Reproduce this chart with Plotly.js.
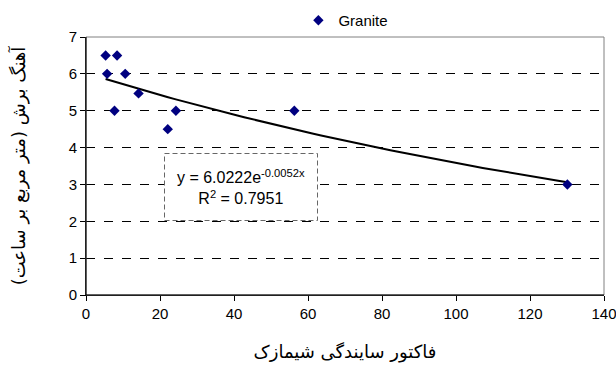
<!DOCTYPE html>
<html><head><meta charset="utf-8">
<script src="https://cdn.plot.ly/plotly-3.0.1.min.js"></script>
<style>html,body{margin:0;padding:0;background:#fff}</style>
</head><body>
<div id="chart" style="width:616px;height:368px"></div>
<script>
// Data
const seriesName = "Granite";
const abrasivity = [5.3, 8.4, 5.7, 10.6, 7.7, 14.2, 22.1, 24.3, 56.3, 130.1];
const cutRate    = [6.5, 6.5, 6.0, 6.0, 5.0, 5.47, 4.5, 5.0, 5.0, 3.0];
const trendA = 6.0222, trendB = -0.0052, trendR2 = 0.7951;
const xTicks = [0, 20, 40, 60, 80, 100, 120, 140];
const yTicks = [0, 1, 2, 3, 4, 5, 6, 7];
const xTitle = "فاکتور سایندگی شیمازک";
const yTitle = "آهنگ برش (متر مربع بر ساعت)";

// exponential trendline from displayed coefficients
const xmin = Math.min(...abrasivity), xmax = Math.max(...abrasivity);
const tx = [], ty = [];
for (let i = 0; i <= 60; i++) { const x = xmin + (xmax - xmin) * i / 60; tx.push(x); ty.push(trendA * Math.exp(trendB * x)); }

const traces = [
  {x: tx, y: ty, mode: 'lines', line: {color: '#000000', width: 2}, showlegend: false, hoverinfo: 'skip'},
  {x: abrasivity, y: cutRate, mode: 'markers', name: seriesName,
   marker: {symbol: 'diamond', size: 8, color: '#000080'}}
];

const layout = {
  width: 616, height: 368,
  margin: {l: 86, r: 12, t: 37, b: 73, autoexpand: false},
  paper_bgcolor: '#fff', plot_bgcolor: '#fff',
  font: {family: 'Liberation Sans, Arial, sans-serif', size: 15, color: '#000'},
  showlegend: true,
  legend: {orientation: 'h', x: 0.41, xanchor: 'left', y: 1.0, yanchor: 'bottom',
           font: {size: 15}, bgcolor: 'rgba(0,0,0,0)', itemwidth: 30},
  xaxis: {range: [0, 140], tickvals: xTicks, showgrid: false, zeroline: false, ticklabeloverflow: 'allow',
          showline: true, linecolor: '#000', linewidth: 1, ticks: 'outside', ticklen: 5, tickcolor: '#000',
          title: {text: xTitle, font: {family: 'DejaVu Sans, sans-serif', size: 18}, standoff: 24}},
  yaxis: {range: [0, 7], tickvals: yTicks, showgrid: true, gridcolor: '#000', griddash: 'dash', gridwidth: 1,
          zeroline: false, showline: true, linecolor: '#000', linewidth: 1, ticks: 'outside', ticklen: 5, tickcolor: '#000',
          title: {text: yTitle, font: {family: 'DejaVu Sans, sans-serif', size: 18}, standoff: 38}},
  shapes: [
    {type: 'rect', xref: 'paper', yref: 'paper', x0: 0, x1: 1, y0: 0, y1: 1,
     line: {color: '#808080', width: 1}, layer: 'above'},
    {type: 'line', xref: 'paper', yref: 'paper', x0: 0, x1: 0, y0: 0, y1: 1, line: {color: '#000', width: 1}, layer: 'above'},
    {type: 'line', xref: 'paper', yref: 'paper', x0: 0, x1: 1, y0: 0, y1: 0, line: {color: '#000', width: 1}, layer: 'above'}
  ],
  annotations: [{
    x: 41.8, y: 2.93, xref: 'x', yref: 'y', showarrow: false, align: 'center',
    text: 'y = ' + trendA.toFixed(4) + 'e<sup>' + trendB.toFixed(4) + 'x</sup><br>R<sup>2</sup> = ' + trendR2.toFixed(4),
    font: {size: 16, color: '#000'}, bgcolor: '#fff', bordercolor: '#666', borderwidth: 1,
    borderpad: 3, width: 146, height: 60
  }]
};
Plotly.newPlot('chart', traces, layout, {displayModeBar: false, staticPlot: true});
// dashed annotation border
setTimeout(() => {
  document.querySelectorAll('.annotation-text-g rect.bg').forEach(r => r.style.strokeDasharray = '5,3');
}, 50);
</script>
</body></html>
